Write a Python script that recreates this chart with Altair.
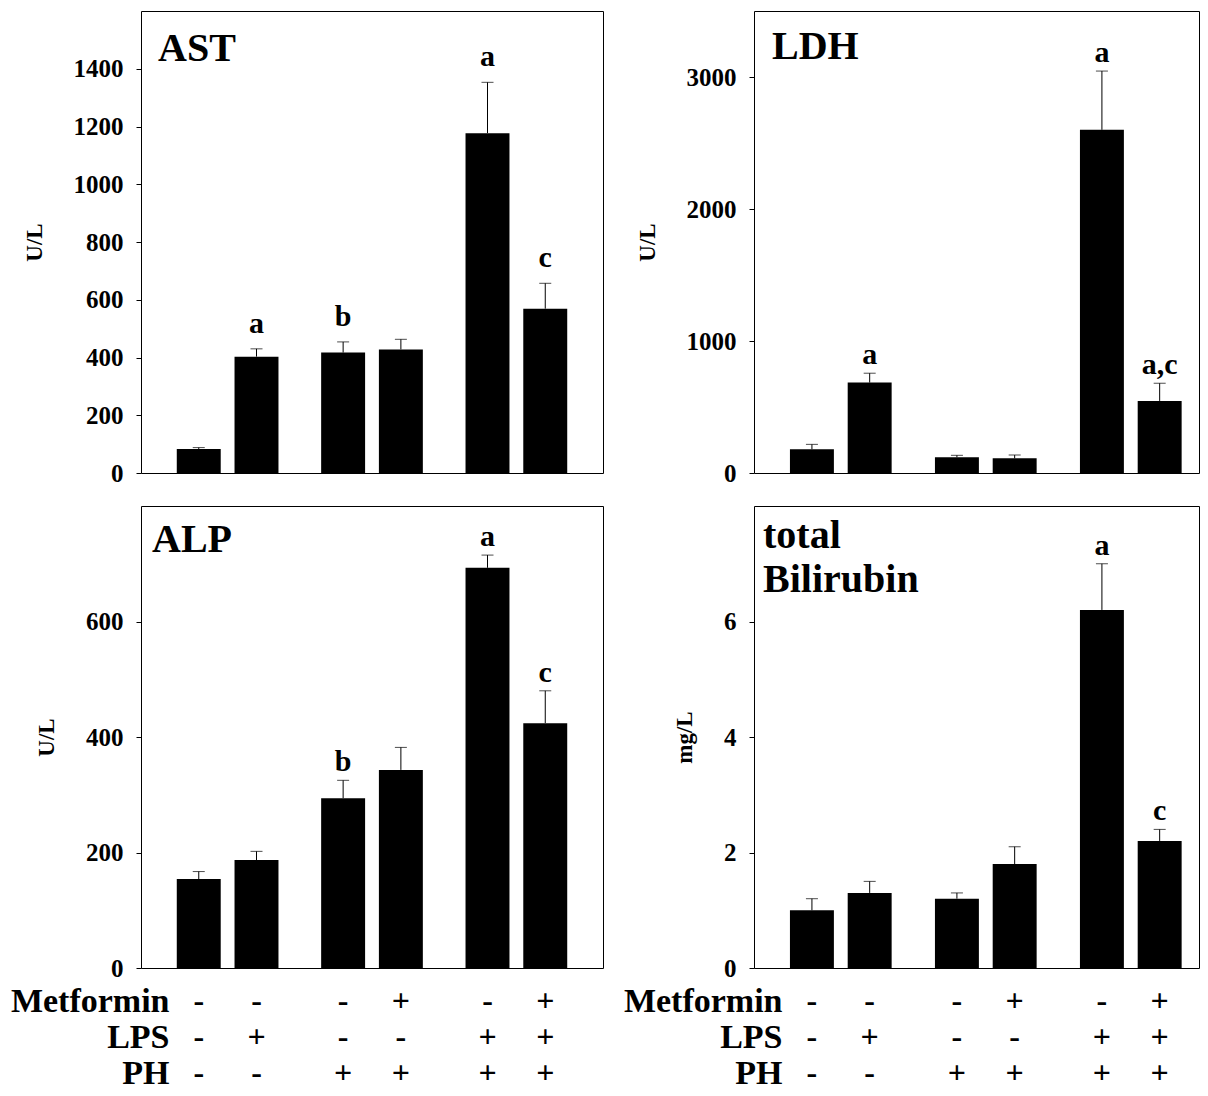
import altair as alt
import pandas as pd

FONT = "Liberation Serif"

# bar layout: three groups of two bars
groups = ["G1", "G1", "G2", "G2", "G3", "G3"]
subs = ["L", "R", "L", "R", "L", "R"]

# AST (U/L)
ast_mean = [83, 403, 417, 428, 1177, 569]
ast_sem = [5, 27, 37, 35, 176, 88]
ast_letters = ["", "a", "b", "", "a", "c"]

# LDH (U/L)
ldh_mean = [180, 685, 119, 111, 2600, 546]
ldh_sem = [37, 71, 15, 25, 445, 134]
ldh_letters = ["", "a", "", "", "a", "a,c"]

# ALP (U/L)
alp_mean = [154, 187, 294, 343, 693, 424]
alp_sem = [13, 15, 31, 39, 22, 56]
alp_letters = ["", "", "b", "", "a", "c"]

# total Bilirubin (mg/L)
bil_mean = [1.0, 1.3, 1.2, 1.8, 6.2, 2.2]
bil_sem = [0.2, 0.2, 0.1, 0.3, 0.8, 0.2]
bil_letters = ["", "", "", "", "a", "c"]

# treatment table
factors = ["Metformin", "LPS", "PH"]
metformin = ["-", "-", "-", "+", "-", "+"]
lps = ["-", "+", "-", "-", "+", "+"]
ph = ["-", "-", "+", "+", "+", "+"]

H = 462
W_LEFT = 462
W_RIGHT = 445

# band-scale settings for the outer (group) scale of each column
LEFT_SCALE = dict(paddingInner=0.2956, paddingOuter=0.2478)
RIGHT_SCALE = dict(paddingInner=0.2956, paddingOuter=0.1823, align=0.68)


def xenc(sc):
    return alt.X("group:N", axis=None, scale=alt.Scale(**sc))


def xoff():
    return alt.XOffset("sub:N", scale=alt.Scale(paddingInner=0.239, paddingOuter=0))


def panel(mean, sem, letters, title, unit, dmax, ticks, dx, dy, width, sc, letter_dy):
    df = pd.DataFrame({"group": groups, "sub": subs, "mean": mean,
                       "sem": sem, "letter": letters})
    base = alt.Chart(df).transform_calculate(upper="datum.mean + datum.sem")
    scale = alt.Scale(domain=[0, dmax], nice=False, zero=True)
    axis = alt.Axis(values=ticks, format="d", domain=False, tickSize=5, labelPadding=13,
                    labelFontSize=25, titleFontSize=23, titlePadding=27,
                    labelFont=FONT, titleFont=FONT,
                    grid=False, labelFlush=False)

    def yenc(field):
        return alt.Y(field, scale=scale, axis=axis, title=unit)

    bars = base.mark_bar(color="black").encode(x=xenc(sc), xOffset=xoff(), y=yenc("mean:Q"))
    err = base.mark_rule(color="black", strokeWidth=1).encode(
        x=xenc(sc), xOffset=xoff(), y=yenc("mean:Q"), y2=alt.Y2("upper:Q"))
    cap = base.mark_tick(color="black", thickness=1, size=12, orient="horizontal").encode(
        x=xenc(sc), xOffset=xoff(), y=yenc("upper:Q"))
    txt = base.mark_text(font=FONT, fontWeight="bold", fontSize=30, baseline="alphabetic",
                         dy=letter_dy, color="black").encode(
        x=xenc(sc), xOffset=xoff(), y=yenc("upper:Q"), text="letter:N")
    ttl = alt.Chart(pd.DataFrame({"title": [title]})).mark_text(
        font=FONT, fontWeight="bold", fontSize=40, align="left", baseline="alphabetic",
        lineBreak="\n", lineHeight=44, color="black"
    ).encode(x=alt.value(dx), y=alt.value(dy), text="title:N")
    return alt.layer(bars, err, cap, txt, ttl).properties(width=width, height=H)


ast = panel(ast_mean, ast_sem, ast_letters, "AST", "U/L", 1600,
            [0, 200, 400, 600, 800, 1000, 1200, 1400], 17, 50, W_LEFT, LEFT_SCALE, -16)
ldh = panel(ldh_mean, ldh_sem, ldh_letters, "LDH", "U/L", 3500,
            [0, 1000, 2000, 3000], 18, 48, W_RIGHT, RIGHT_SCALE, -9)
alp = panel(alp_mean, alp_sem, alp_letters, "ALP", "U/L", 800,
            [0, 200, 400, 600], 11, 46, W_LEFT, LEFT_SCALE, -9)
bil = panel(bil_mean, bil_sem, bil_letters, "total\nBilirubin", "mg/L", 8,
            [0, 2, 4, 6], 9, 42, W_RIGHT, RIGHT_SCALE, -9)

sign_df = pd.DataFrame({
    "group": groups * 3,
    "sub": subs * 3,
    "factor": [f for f in factors for _ in range(6)],
    "sign": metformin + lps + ph,
})


def label_chart(width, sc):
    return alt.Chart(sign_df).mark_text(
        font=FONT, fontWeight="bold", fontSize=32, baseline="middle", color="black"
    ).encode(
        x=xenc(sc), xOffset=xoff(),
        y=alt.Y("factor:N", sort=factors,
                scale=alt.Scale(type="point", padding=0),
                axis=alt.Axis(title=None, domain=False, ticks=False, offset=-30,
                              labelPadding=2, labelFontSize=34, labelBaseline="middle",
                              labelFont=FONT, labelFontWeight="bold", labelColor="black")),
        text="sign:N",
    ).properties(width=width, height=72, view=alt.ViewBackground(stroke="transparent"))


chart = alt.concat(
    ast, ldh, alp, bil, label_chart(W_LEFT, LEFT_SCALE), label_chart(W_RIGHT, RIGHT_SCALE),
    columns=2, spacing={"row": 33, "column": 151}, bounds="flush",
).properties(
    padding={"left": 1, "top": 2, "right": 0, "bottom": 0}
).configure_view(
    stroke="black", strokeWidth=1
).configure_axis(
    labelFont=FONT, titleFont=FONT, labelFontWeight="bold", titleFontWeight="bold",
    labelColor="black", titleColor="black", tickColor="black", domainColor="black"
)

chart.save("out.html", embed_options={"renderer": "svg", "actions": False})
